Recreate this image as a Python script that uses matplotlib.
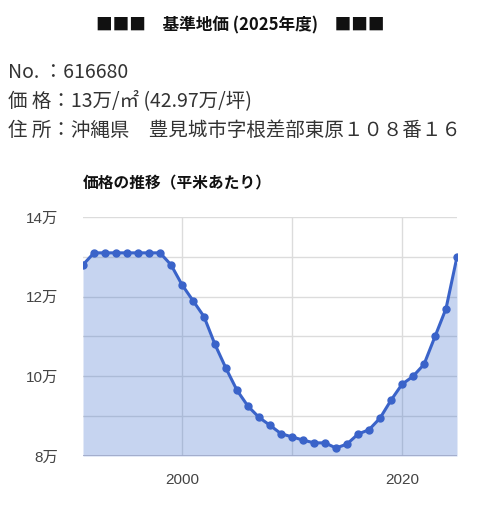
import matplotlib
matplotlib.use('Agg')
import numpy as np
import matplotlib.pyplot as plt
from matplotlib.ticker import MultipleLocator, FixedLocator

plt.rcParams['font.family'] = ['Noto Sans CJK JP', 'DejaVu Sans']

years = list(range(1991, 2026))
# price per m2, in units of 10,000 yen (万)
prices = [12.8, 13.1, 13.1, 13.1, 13.1, 13.1, 13.1, 13.1, 12.8, 12.3,
          11.9, 11.5, 10.8, 10.2, 9.65, 9.25, 8.97, 8.77, 8.56, 8.48,
          8.4, 8.33, 8.33, 8.2, 8.3, 8.55, 8.66, 8.95, 9.4, 9.8,
          10.0, 10.3, 11.0, 11.7, 13.0]

title = '■■■　基準地価 (2025年度)　■■■'
info_lines = ['No. ：616680',
              '価 格：13万/㎡ (42.97万/坪)',
              '住 所：沖縄県　豊見城市字根差部東原１０８番１６']
chart_title = '価格の推移（平米あたり）'
yticks = [8, 10, 12, 14]
xtick_labels = [2000, 2020]

line_col = '#3a63c9'
grid_col = '#dcdcdc'
tick_fonts = ['Liberation Sans', 'Noto Sans CJK JP']

fig = plt.figure(figsize=(4.8, 5.11), dpi=100)
fig.text(0.5, 1 - 25/511, title, ha='center', va='center', fontsize=12, fontweight='bold', color='#111111')
for i, s in enumerate(info_lines):
    fig.text(8/480, 1 - (72 + 29*i)/511, s, ha='left', va='center', fontsize=14, color='#333333')
fig.text(83/480, 1 - 183/511, chart_title, ha='left', va='center', fontsize=11.3, fontweight='bold', color='#111111')

ax = fig.add_axes([83/480, 1 - 456/511, (457-83)/480, (456-217)/511])
ax.fill_between(years, 8, prices, color='#3366cc', alpha=0.28, lw=0, zorder=2)
ax.plot(years, prices, color=line_col, lw=2.2, marker='o', ms=5, zorder=3)

ax.set_xlim(1991, 2025)
ax.set_ylim(8, 14)
ax.yaxis.set_major_locator(FixedLocator(yticks))
ax.yaxis.set_minor_locator(MultipleLocator(1))
ax.set_yticklabels(['%d万' % v for v in yticks], family=tick_fonts)
ax.xaxis.set_major_locator(FixedLocator(xtick_labels))
ax.xaxis.set_minor_locator(FixedLocator([2010]))
ax.set_xticklabels([str(v) for v in xtick_labels], family=tick_fonts)

ax.grid(True, which='both', color=grid_col, lw=1, zorder=0)
ax.axhline(8, color='#9fa8c8', lw=1.2, zorder=4)
for s in ax.spines.values():
    s.set_visible(False)
ax.tick_params(which='both', length=0)
ax.tick_params(axis='y', pad=18, labelsize=11, labelcolor='#444444')
ax.tick_params(axis='x', pad=12, labelsize=11, labelcolor='#444444')

plt.savefig('out.png', dpi=100)
